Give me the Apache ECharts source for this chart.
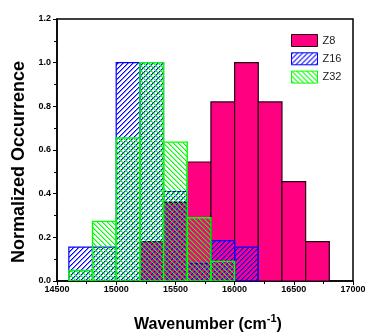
<!DOCTYPE html>
<html>
<head>
<meta charset="utf-8">
<script src="https://cdn.jsdelivr.net/npm/echarts@6/dist/echarts.min.js"></script>
<style>
html,body{margin:0;padding:0;background:#fff;}
#c{width:365px;height:334px;}
</style>
</head>
<body>
<div id="c"></div>
<script>
// ---- data ----
var binStarts = [14600, 14800, 15000, 15200, 15400, 15600, 15800, 16000, 16200, 16400, 16600];
var binWidth = 200;
var z8  = [0, 0, 0, 0.18, 0.36, 0.545, 0.82, 1.0, 0.82, 0.455, 0.18];
var z16 = [0.155, 0.155, 1.0, 1.0, 0.41, 0.08, 0.185, 0.155, 0, 0, 0];
var z32 = [0.048, 0.273, 0.655, 1.0, 0.636, 0.29, 0.09, 0, 0, 0, 0];
var seriesNames = ['Z8', 'Z16', 'Z32'];
var xTicks = { min: 14500, max: 17000, interval: 500 };
var yTicks = { min: 0, max: 1.2, interval: 0.2 };

function makeHatch(rgb, dir) {
  var s = 5;
  var cv = document.createElement('canvas');
  cv.width = s; cv.height = s;
  var ctx = cv.getContext('2d');
  var img = ctx.createImageData(s, s);
  for (var y = 0; y < s; y++) {
    for (var x = 0; x < s; x++) {
      var k = dir === '/' ? (x + y) % s : ((x - y) % s + s) % s;
      var a = k === 0 ? 255 : (k === 1 ? 120 : 0);
      var i = (y * s + x) * 4;
      img.data[i] = rgb[0]; img.data[i + 1] = rgb[1]; img.data[i + 2] = rgb[2]; img.data[i + 3] = a;
    }
  }
  ctx.putImageData(img, 0, 0);
  return { image: cv, repeat: 'repeat' };
}

var blueHatch = makeHatch([0, 0, 255], '/');
var greenHatch = makeHatch([0, 255, 0], '\\');

var styles = {
  Z8: { fill: '#ff0080', stroke: '#2a0014', lineWidth: 1.2 },
  Z16: { fill: blueHatch, stroke: '#0000ff', lineWidth: 1.2 },
  Z32: { fill: greenHatch, stroke: '#00ff00', lineWidth: 1.4 }
};

function toData(vals) {
  var out = [];
  for (var i = 0; i < binStarts.length; i++) {
    if (vals[i] > 0) out.push([binStarts[i], binStarts[i] + binWidth, vals[i]]);
  }
  return out;
}

function makeSeries(name, vals) {
  var st = styles[name];
  return {
    type: 'custom',
    name: name,
    clip: true,
    encode: { x: [0, 1], y: 2 },
    itemStyle: { color: st.fill, borderColor: st.stroke },
    renderItem: function (params, api) {
      var p0 = api.coord([api.value(0), 0]);
      var p1 = api.coord([api.value(1), api.value(2)]);
      return {
        type: 'rect',
        shape: { x: p0[0], y: p1[1], width: p1[0] - p0[0], height: p0[1] - p1[1] },
        style: { fill: st.fill, stroke: st.stroke, lineWidth: st.lineWidth }
      };
    },
    data: toData(vals)
  };
}

var sans = "'Liberation Sans', Arial, sans-serif";

var chart = echarts.init(document.getElementById('c'), null, { renderer: 'canvas' });
chart.setOption({
  animation: false,
  backgroundColor: '#fff',
  grid: { left: 57, right: 12, top: 19, bottom: 53, containLabel: false, outerBoundsMode: 'none', show: true, borderColor: '#000', borderWidth: 1.5, backgroundColor: 'transparent' },
  legend: {
    orient: 'vertical', left: 286, top: 29, icon: 'rect', itemWidth: 26, itemHeight: 12, itemGap: 5.3,
    textStyle: { fontFamily: sans, fontSize: 11, color: '#222' },
    data: [
      { name: 'Z8', itemStyle: { color: styles.Z8.fill, borderColor: styles.Z8.stroke, borderWidth: 1 } },
      { name: 'Z16', itemStyle: { color: blueHatch, borderColor: '#0000ff', borderWidth: 1 } },
      { name: 'Z32', itemStyle: { color: greenHatch, borderColor: '#00ff00', borderWidth: 1 } }
    ]
  },
  xAxis: {
    type: 'value', min: xTicks.min, max: xTicks.max, interval: xTicks.interval,
    name: '{a|Wavenumber (cm}{b|-1}{a|)}', nameLocation: 'middle', nameGap: 32,
    nameTextStyle: {
      padding: [0, 0, 0, 6],
      rich: {
        a: { fontFamily: sans, fontWeight: 'bold', fontSize: 16, color: '#000', lineHeight: 20, verticalAlign: 'bottom' },
        b: { fontFamily: sans, fontWeight: 'bold', fontSize: 11, color: '#000', lineHeight: 20, verticalAlign: 'top' }
      }
    },
    axisLine: { show: true, onZero: false, lineStyle: { color: '#000', width: 1.5 } },
    axisTick: { show: true, inside: false, length: 4, lineStyle: { color: '#000', width: 1 } },
    minorTick: { show: true, splitNumber: 2, length: 3, lineStyle: { color: '#000', width: 1 } },
    splitLine: { show: false },
    axisLabel: { margin: 4, fontFamily: sans, fontWeight: 'bold', fontSize: 9, color: '#000', formatter: function (v) { return String(v); } }
  },
  yAxis: {
    type: 'value', min: yTicks.min, max: yTicks.max, interval: yTicks.interval,
    name: 'Normalized Occurrence', nameLocation: 'middle', nameGap: 25,
    nameTextStyle: { fontFamily: sans, fontWeight: 'bold', fontSize: 18, color: '#000', padding: [0, 24, 0, 0] },
    axisLine: { show: true, onZero: false, lineStyle: { color: '#000', width: 1.5 } },
    axisTick: { show: true, inside: false, length: 4, lineStyle: { color: '#000', width: 1 } },
    minorTick: { show: true, splitNumber: 2, length: 3, lineStyle: { color: '#000', width: 1 } },
    splitLine: { show: false },
    axisLabel: { margin: 6, fontFamily: sans, fontWeight: 'bold', fontSize: 9, color: '#000', formatter: function (v) { return v.toFixed(1); } }
  },
  series: [makeSeries('Z8', z8), makeSeries('Z16', z16), makeSeries('Z32', z32)]
});
</script>
</body>
</html>
